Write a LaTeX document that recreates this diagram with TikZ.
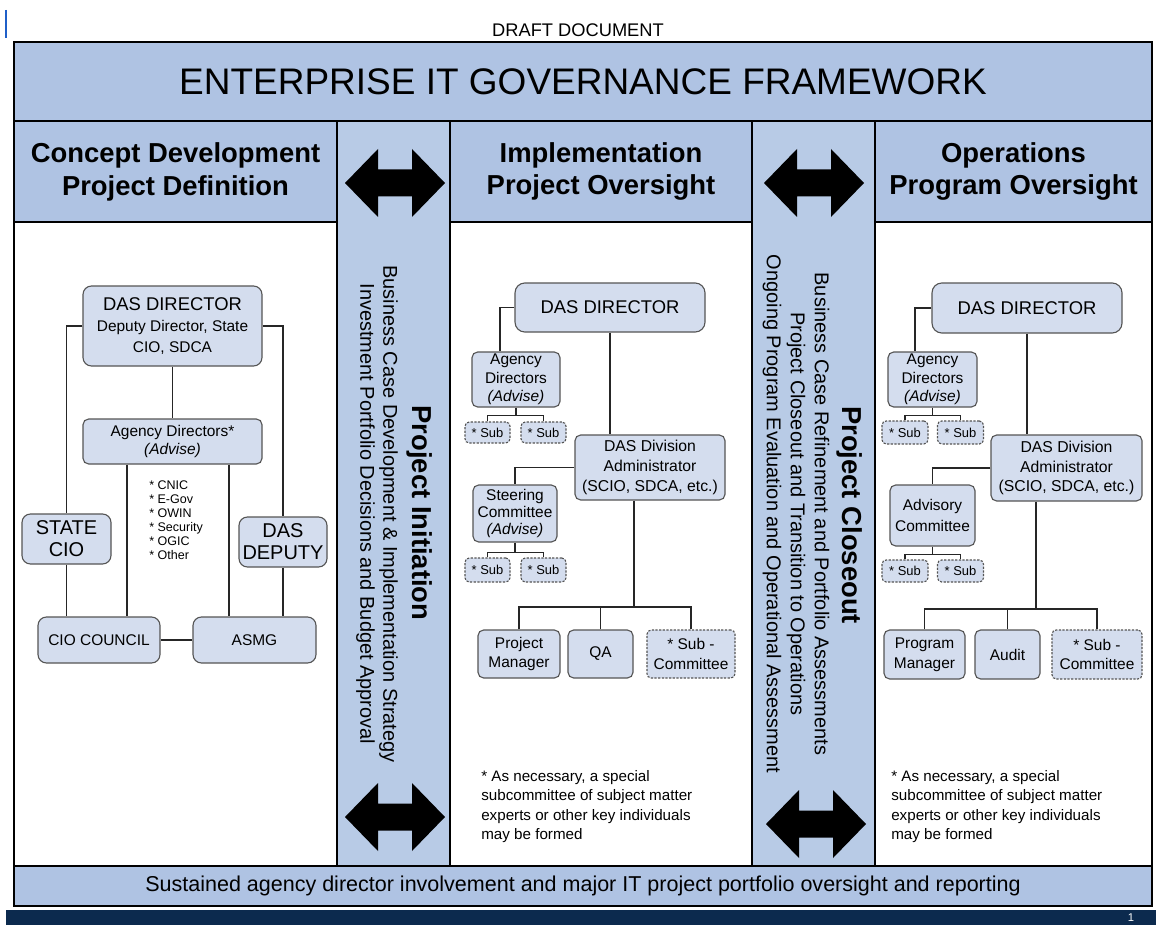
\documentclass[tikz,border=0pt]{standalone}
\usepackage{fontspec}
\setmainfont{Liberation Sans}
\usetikzlibrary{positioning}

\definecolor{bandblue}{HTML}{AFC3E3}
\definecolor{stripblue}{HTML}{B8CBE6}
\definecolor{boxblue}{HTML}{D4DDEE}
\definecolor{boxline}{HTML}{555555}
\definecolor{navy}{HTML}{0C2A4E}
\definecolor{markblue}{HTML}{1F5FC8}
\newcommand{\fs}[2]{\fontsize{#1}{#2}\selectfont}

\tikzset{
  band/.style={draw=black, line width=1.8pt, fill=bandblue, align=center, inner sep=0pt},
  panel/.style={draw=black, line width=1.8pt, fill=white},
  strip/.style={draw=black!75, line width=0.6pt, fill=stripblue},
  sz/.style 2 args={minimum width=#1*0.025cm, minimum height=#2*0.025cm},
  orgbox/.style={draw=boxline, line width=0.8pt, fill=boxblue, rounded corners=4pt,
    align=center, inner sep=0pt, font=\fs{11}{13}},
  subbox/.style={orgbox, dash pattern=on 1.6pt off 1pt, rounded corners=3pt, font=\fs{9.2}{11}},
  link/.style={draw=black!85, line width=0.8pt},
  vtitle/.style={rotate=-90, font=\bfseries\fs{19.5}{23}},
  vtext/.style={rotate=-90, align=center},
  note/.style={anchor=north west, align=left, inner sep=0pt, font=\fs{10.8}{13.8}},
  dblarrow/.pic={
    \fill[black] (-50,0) -- (-17,-34) -- (-17,-13.5) -- (17,-13.5) -- (17,-34)
      -- (50,0) -- (17,34) -- (17,13.5) -- (-17,13.5) -- (-17,34) -- cycle;
  }
}

\begin{document}
\begin{tikzpicture}[x=0.025cm, y=-0.025cm]
\useasboundingbox (0,0) rectangle (1156,925);

\draw[markblue, line width=1.5pt] (6,10) -- (6,38);
\node[font=\fs{13}{15}] (draft) at (578,30) {DRAFT DOCUMENT};

% columns and strips
\draw[strip] (337,121) rectangle (450,866);
\draw[strip] (752,121) rectangle (875,866);
\draw[panel] (14,222) rectangle (337,866);
\draw[panel] (450,222) rectangle (752,866);
\draw[panel] (875,222) rectangle (1152,866);

\node[band, sz={1138}{79}, font=\fs{26.3}{30}] (title) at (583,81.5) {ENTERPRISE IT GOVERNANCE FRAMEWORK};
\node[band, sz={323}{101}, font=\bfseries\fs{19.5}{23.4}] (hconcept) at (175.5,171.5) {Concept Development\\Project Definition};
\node[band, sz={302}{101}, font=\bfseries\fs{19.5}{23.4}] (himpl) at (601,171.5) {Implementation\\Project Oversight};
\node[band, sz={277}{101}, font=\bfseries\fs{19.5}{23.4}] (hops) at (1013.5,171.5) {Operations\\Program Oversight};

\pic at (395,183) {dblarrow};
\pic at (395,817) {dblarrow};
\pic at (814,183) {dblarrow};
\pic at (816,824) {dblarrow};

\node[vtitle] (initttl) at (420,513) {Project Initiation};
\node[vtext, font=\fs{14.2}{16.3}] (inittxt) at (377,514)
  {Business Case Development \& Implementation Strategy\\Investment Portfolio Decisions and Budget Approval};
\node[vtitle] (closettl) at (850,515) {Project Closeout};
\node[vtext, font=\fs{14.2}{17}] (closetxt) at (796,514)
  {Business Case Refinement and Portfolio Assessments\\Project Closeout and Transition to Operations\\Ongoing Program Evaluation and Operational Assessment};

% concept development chart
\node[orgbox, sz={179}{80}, rounded corners=6pt, font=\fs{11}{15.2}] (ldir) at (172.5,326)
  {{\fs{13.1}{15.2}DAS DIRECTOR}\\Deputy Director, State\\CIO, SDCA};
\node[orgbox, sz={179}{45}, font=\fs{11}{13.5}] (lagency) at (172.5,441.5) {Agency Directors*\\\textit{(Advise)}};
\node[orgbox, sz={89}{50}, rounded corners=6pt, font=\fs{14.2}{15.6}] (lstate) at (66.5,539) {STATE\\CIO};
\node[orgbox, sz={88}{50}, rounded corners=6pt, font=\fs{14.2}{15.6}] (ldeputy) at (283,542) {DAS\\DEPUTY};
\node[orgbox, sz={122}{46}, rounded corners=6pt] (lcouncil) at (99,640) {CIO COUNCIL};
\node[orgbox, sz={123}{46}, rounded corners=6pt] (lasmg) at (254.5,640) {ASMG};
\node[anchor=north west, align=left, inner sep=0pt, font=\fs{8.9}{10}] (llist) at (149,480)
  {* CNIC\\* E-Gov\\* OWIN\\* Security\\* OGIC\\* Other};

\coordinate (lagl) at ([shift={(-45.5,0)}]lagency.south);
\coordinate (lagr) at ([shift={(56.5,0)}]lagency.south);
\draw[link] (ldir.west) -| (lstate.north);
\draw[link] (ldir.east) -| (ldeputy.north);
\draw[link] (ldir.south) -- (lagency.north);
\draw[link] (lagl) -- (lagl |- lcouncil.north);
\draw[link] (lagr) -- (lagr |- lasmg.north);
\draw[link] (lstate.south) -- (lstate.south |- lcouncil.north);
\draw[link] (ldeputy.south) -- (ldeputy.south |- lasmg.north);
\draw[link] (lcouncil.east) -- (lasmg.west);

% implementation chart
\node[orgbox, sz={190}{49}, rounded corners=7pt, font=\fs{13.1}{15}] (mdir) at (610,307.5) {DAS DIRECTOR};
\node[orgbox, sz={88}{55}] (magency) at (516,379.5) {Agency\\Directors\\\textit{(Advise)}};
\node[subbox, sz={45}{21}] (msuba) at (487.5,432.5) {* Sub};
\node[subbox, sz={45}{21}] (msubb) at (543.5,432.5) {* Sub};
\node[orgbox, sz={150}{65}, font=\fs{11.2}{14}] (mdiv) at (650,467.5) {DAS Division\\Administrator\\(SCIO, SDCA, etc.)};
\node[orgbox, sz={84}{57}, font=\fs{11}{12.2}] (msteer) at (515,513.5) {Steering\\Committee\\\textit{(Advise)}};
\node[subbox, sz={45}{24}] (msubc) at (487.5,570) {* Sub};
\node[subbox, sz={45}{24}] (msubd) at (543.5,570) {* Sub};
\node[orgbox, sz={82}{48}, font=\fs{11}{14}] (mpm) at (519,654) {Project\\Manager};
\node[orgbox, sz={65}{48}] (mqa) at (600.5,654) {QA};
\node[subbox, sz={88}{48}, font=\fs{11}{14}] (msubcom) at (691,654) {* Sub -\\Committee};

\coordinate (mja) at ([shift={(0,8)}]magency.south);
\coordinate (mjs) at ([shift={(0,10)}]msteer.south);
\coordinate (mdivout) at ([shift={(-16,0)}]mdiv.south);
\coordinate (mbus) at (600,607);
\draw[link] (mdir.west) -| ([shift={(-16,0)}]magency.north);
\draw[link] (magency.south) -- (mja);
\draw[link] (msuba.north) |- (mja) -| (msubb.north);
\draw[link] (mdir.south) -- (mdir.south |- mdiv.north);
\draw[link] (mdiv.west) -| (msteer.north);
\draw[link] (msteer.south) -- (mjs);
\draw[link] (msubc.north) |- (mjs) -| (msubd.north);
\draw[link] (mdivout) -- (mdivout |- mbus);
\draw[link] (mpm.north) |- (mbus) -| (msubcom.north);
\draw[link] (mqa.north) -- (mqa.north |- mbus);

% operations chart
\node[orgbox, sz={190}{50}, rounded corners=7pt, font=\fs{13.1}{15}] (rdir) at (1027,308) {DAS DIRECTOR};
\node[orgbox, sz={89}{55}] (ragency) at (932.5,379.5) {Agency\\Directors\\\textit{(Advise)}};
\node[subbox, sz={46}{23}] (rsuba) at (905,432.5) {* Sub};
\node[subbox, sz={46}{23}] (rsubb) at (960.5,432.5) {* Sub};
\node[orgbox, sz={151}{66}, font=\fs{11.2}{14}] (rdiv) at (1066.5,468) {DAS Division\\Administrator\\(SCIO, SDCA, etc.)};
\node[orgbox, sz={85}{61}, font=\fs{11}{15}] (radv) at (932.5,515.5) {Advisory\\Committee};
\node[subbox, sz={46}{22}] (rsubc) at (905,571) {* Sub};
\node[subbox, sz={46}{22}] (rsubd) at (960.5,571) {* Sub};
\node[orgbox, sz={81}{49}, font=\fs{11}{14}] (rpm) at (924.5,654.5) {Program\\Manager};
\node[orgbox, sz={65}{49}] (raudit) at (1007.5,654.5) {Audit};
\node[subbox, sz={90}{49}, font=\fs{11}{14}] (rsubcom) at (1097,654.5) {* Sub -\\Committee};

\coordinate (rja) at ([shift={(0,8)}]ragency.south);
\coordinate (rjs) at ([shift={(0,8)}]radv.south);
\coordinate (rdivout) at ([shift={(-30.5,0)}]rdiv.south);
\coordinate (rbus) at (1008,609);
\draw[link] (rdir.west) -| ([shift={(-17.5,0)}]ragency.north);
\draw[link] (ragency.south) -- (rja);
\draw[link] (rsuba.north) |- (rja) -| (rsubb.north);
\draw[link] (rdir.south) -- (rdir.south |- rdiv.north);
\draw[link] (rdiv.west) -| (radv.north);
\draw[link] (radv.south) -- (rjs);
\draw[link] (rsubc.north) |- (rjs) -| (rsubd.north);
\draw[link] (rdivout) -- (rdivout |- rbus);
\draw[link] (rpm.north) |- (rbus) -| (rsubcom.north);
\draw[link] (raudit.north) -- (raudit.north |- rbus);

\node[note] (mnote) at (481,770) {* As necessary, a special\\subcommittee of subject matter\\experts or other key individuals\\may be formed};
\node[note] (rnote) at (891,770) {* As necessary, a special\\subcommittee of subject matter\\experts or other key individuals\\may be formed};

% bottom
\node[band, sz={1138}{40}, font=\fs{15.3}{17}] (sustain) at (583,886)
  {Sustained agency director involvement and major IT project portfolio oversight and reporting};
\fill[navy] (6,910) rectangle (1156,925);
\node[white, font=\fs{8}{9}, inner sep=0pt] (pagenum) at (1131,918) {1};
\end{tikzpicture}
\end{document}
